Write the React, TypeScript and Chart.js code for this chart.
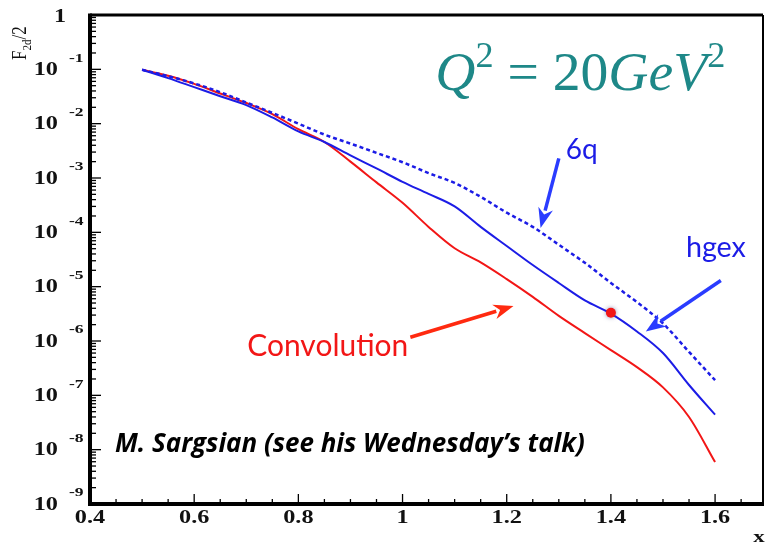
import React, { useEffect, useRef } from "react";
import { Chart, registerables } from "chart.js";
Chart.register(...registerables);

// ---- data ----
const xGrid = [0.5, 0.55, 0.6, 0.65, 0.7, 0.75, 0.8, 0.85, 0.9, 0.95, 1.0, 1.05, 1.1, 1.15, 1.2, 1.25, 1.3, 1.35, 1.4, 1.45, 1.5, 1.55, 1.6];
const sixQ = [9.8e-2, 7.5e-2, 5.5e-2, 3.8e-2, 2.45e-2, 1.58e-2, 1.0e-2, 6.3e-3, 4.3e-3, 2.9e-3, 1.95e-3, 1.23e-3, 8.1e-4, 4.5e-4, 2.3e-4, 1.26e-4, 5.9e-5, 2.75e-5, 1.17e-5, 5.2e-6, 2.1e-6, 6.3e-7, 1.9e-7];
const hgex = [9.8e-2, 6.9e-2, 4.7e-2, 3.2e-2, 2.2e-2, 1.3e-2, 7.2e-3, 4.6e-3, 2.6e-3, 1.5e-3, 8.5e-4, 5.1e-4, 3.0e-4, 1.26e-4, 5.6e-5, 2.5e-5, 1.17e-5, 5.6e-6, 3.2e-6, 1.5e-6, 6.0e-7, 1.55e-7, 4.4e-8];
const convolution = [9.8e-2, 7.6e-2, 5.4e-2, 3.6e-2, 2.4e-2, 1.5e-2, 7.9e-3, 4.6e-3, 2.0e-3, 8.3e-4, 3.5e-4, 1.26e-4, 5.1e-5, 2.8e-5, 1.38e-5, 6.5e-6, 2.9e-6, 1.4e-6, 6.8e-7, 3.3e-7, 1.4e-7, 4.0e-8, 5.9e-9];
const markerX = [1.4];
const markerY = [3.3e-6];
const xTickValues = [0.4, 0.6, 0.8, 1.0, 1.2, 1.4, 1.6];
const yTickExponents = [0, -1, -2, -3, -4, -5, -6, -7, -8, -9];

const BLUE = "#1c1ce6";
const ARROW_BLUE = "#2a3cff";
const RED = "#f21616";
const TEAL = "#1e8888";

function drawArrow(ctx: CanvasRenderingContext2D, x1: number, y1: number, x2: number, y2: number, color: string, w: number, hl: number, hw: number) {
  const a = Math.atan2(y2 - y1, x2 - x1);
  const bx = x2 - hl * Math.cos(a);
  const by = y2 - hl * Math.sin(a);
  ctx.save();
  ctx.strokeStyle = color;
  ctx.fillStyle = color;
  ctx.lineWidth = w;
  ctx.lineCap = "butt";
  ctx.beginPath();
  ctx.moveTo(x1, y1);
  ctx.lineTo(bx + Math.cos(a) * 2, by + Math.sin(a) * 2);
  ctx.stroke();
  ctx.beginPath();
  ctx.moveTo(x2, y2);
  ctx.lineTo(bx + (hw / 2) * Math.sin(a), by - (hw / 2) * Math.cos(a));
  ctx.lineTo(bx + Math.cos(a) * hl * 0.3, by + Math.sin(a) * hl * 0.3);
  ctx.lineTo(bx - (hw / 2) * Math.sin(a), by + (hw / 2) * Math.cos(a));
  ctx.closePath();
  ctx.fill();
  ctx.restore();
}

function fitText(ctx: CanvasRenderingContext2D, text: string, style: string, family: string, width: number, base: number) {
  ctx.font = `${style} ${base}px ${family}`;
  const m = ctx.measureText(text).width;
  const size = (base * width) / m;
  ctx.font = `${style} ${size}px ${family}`;
  return size;
}

const decorPlugin = {
  id: "decor",
  afterDraw(chart: any) {
    const ctx: CanvasRenderingContext2D = chart.ctx;
    const xs = chart.scales.x;
    const ys = chart.scales.y;
    const { left, right, top, bottom } = chart.chartArea;
    const X = (v: number) => xs.getPixelForValue(v);
    const Y = (v: number) => ys.getPixelForValue(v);
    ctx.save();

    // frame
    ctx.strokeStyle = "#000";
    ctx.lineWidth = 3;
    ctx.beginPath();
    ctx.moveTo(left, top);
    ctx.lineTo(right, top);
    ctx.stroke();
    ctx.lineWidth = 2;
    ctx.beginPath();
    ctx.moveTo(right, top);
    ctx.lineTo(right, bottom);
    ctx.stroke();

    // y ticks
    ctx.lineWidth = 1.3;
    for (let e = -9; e <= 0; e++) {
      const yMaj = Y(Math.pow(10, e));
      ctx.beginPath();
      ctx.moveTo(left, yMaj);
      ctx.lineTo(left + 11, yMaj);
      ctx.stroke();
      if (e < 0) {
        for (let m = 2; m <= 9; m++) {
          const yy = Y(m * Math.pow(10, e));
          ctx.beginPath();
          ctx.moveTo(left, yy);
          ctx.lineTo(left + 6, yy);
          ctx.stroke();
        }
      }
    }
    // x ticks
    for (let i = 0; i <= 26; i++) {
      const v = 0.4 + i * 0.05;
      if (v > xs.max) break;
      const px = X(v);
      const major = i % 4 === 0;
      ctx.beginPath();
      ctx.moveTo(px, bottom);
      ctx.lineTo(px, bottom - (major ? 10 : 5));
      ctx.stroke();
    }

    // axis lines (thick)
    ctx.lineWidth = 4;
    ctx.beginPath();
    ctx.moveTo(left, top - 1.5);
    ctx.lineTo(left, bottom);
    ctx.lineTo(right + 1, bottom);
    ctx.stroke();

    // tick labels (horizontally stretched bold serif)
    ctx.fillStyle = "#111";
    const stretch = 1.35;
    const drawStretched = (text: string, x: number, y: number, size: number, align: "left" | "right" | "center") => {
      ctx.save();
      ctx.font = `bold ${size}px "Liberation Serif", "Times New Roman", serif`;
      ctx.textBaseline = "middle";
      ctx.textAlign = align;
      ctx.translate(x, y);
      ctx.scale(stretch, 1);
      ctx.fillText(text, 0, 0);
      ctx.restore();
    };
    xTickValues.forEach((v) => {
      drawStretched(String(v), X(v), bottom + 14, 18, "center");
    });
    yTickExponents.forEach((e) => {
      const yy = Y(Math.pow(10, e));
      if (e === 0) {
        drawStretched("1", left - 30, yy + 2, 18, "center");
      } else {
        drawStretched("10", left - 32, yy + 1, 18, "right");
        drawStretched(String(e), left - 21, yy - 11, 13, "left");
      }
    });

    // axis titles
    ctx.save();
    ctx.translate(26, 60);
    ctx.rotate(-Math.PI / 2);
    ctx.scale(1, 1.2);
    ctx.textBaseline = "alphabetic";
    ctx.textAlign = "left";
    ctx.font = `17px "Liberation Serif", serif`;
    ctx.fillText("F", 0, 0);
    const fw = ctx.measureText("F").width;
    ctx.font = `11px "Liberation Serif", serif`;
    ctx.fillText("2d", fw, 4);
    const sw = ctx.measureText("2d").width;
    ctx.font = `17px "Liberation Serif", serif`;
    ctx.fillText("/2", fw + sw, 0);
    ctx.restore();
    drawStretched("x", right - 4, bottom + 34, 17, "center");

    // red marker
    ctx.save();
    ctx.shadowColor = "rgba(60,60,120,0.55)";
    ctx.shadowBlur = 4;
    ctx.fillStyle = RED;
    ctx.beginPath();
    ctx.arc(X(markerX[0]), Y(markerY[0]), 5, 0, Math.PI * 2);
    ctx.fill();
    ctx.restore();

    // arrows
    drawArrow(ctx, X(1.3), Y(2.3e-3), X(1.265), Y(1.2e-4), ARROW_BLUE, 3.5, 20, 15);
    drawArrow(ctx, X(1.611), Y(1.3e-5), X(1.467), Y(1.5e-6), ARROW_BLUE, 3.5, 20, 15);
    drawArrow(ctx, X(1.015), Y(1.17e-6), X(1.213), Y(4.4e-6), "#ff2a10", 3.5, 20, 15);

    // annotation texts
    ctx.textAlign = "left";
    ctx.textBaseline = "alphabetic";
    ctx.fillStyle = BLUE;
    fitText(ctx, "6q", "", "Lato, sans-serif", 32, 24);
    ctx.fillText("6q", X(1.344) - 16, Y(3.3e-3) + 9);
    fitText(ctx, "hgex", "", "Lato, sans-serif", 60, 24);
    ctx.fillText("hgex", X(1.544), Y(3.5e-5));
    ctx.fillStyle = RED;
    fitText(ctx, "Convolution", "", "Lato, sans-serif", 161, 26);
    ctx.fillText("Convolution", X(0.702), Y(5.2e-7));
    ctx.fillStyle = "#000";
    fitText(ctx, "M. Sargsian (see his Wednesday\u2019s talk)", "italic bold", '"Open Sans", sans-serif', 470, 22);
    ctx.fillText("M. Sargsian (see his Wednesday\u2019s talk)", X(0.448), Y(9.1e-9));

    // Q^2 = 20 GeV^2
    ctx.fillStyle = TEAL;
    const fam = '"Liberation Serif", serif';
    const big = 46;
    const sup = 30;
    const parts: [string, string, number, number][] = [
      ["Q", "italic", big, 0],
      ["2", "", sup, -19],
      [" = 20", "", big, 0],
      ["G", "italic", big, 0],
      ["e", "italic", big, 0],
      ["V", "italic", big, 0],
      ["2", "", sup, -19],
    ];
    let total = 0;
    parts.forEach(([t, s, sz]) => {
      ctx.font = `${s} ${sz}px ${fam}`;
      total += ctx.measureText(t).width;
    });
    const scaleQ = 290 / total;
    let cx = X(1.063);
    const by = Y(4.2e-2);
    parts.forEach(([t, s, sz, dy]) => {
      ctx.font = `${s} ${sz * scaleQ}px ${fam}`;
      ctx.fillText(t, cx, by + dy * scaleQ);
      cx += ctx.measureText(t).width;
    });

    ctx.restore();
  },
};

export default function App() {
  const ref = useRef<HTMLCanvasElement | null>(null);
  useEffect(() => {
    document.body.style.margin = "0";
    const canvas = ref.current;
    if (!canvas) return;
    const mk = (arr: number[]) => xGrid.map((x, i) => ({ x, y: arr[i] }));
    const chart = new Chart(canvas, {
      type: "line",
      data: {
        datasets: [
          { label: "6q", data: mk(sixQ), borderColor: BLUE, borderWidth: 2.5, borderDash: [4, 3], pointRadius: 0, cubicInterpolationMode: "monotone", fill: false },
          { label: "hgex", data: mk(hgex), borderColor: BLUE, borderWidth: 2, pointRadius: 0, cubicInterpolationMode: "monotone", fill: false },
          { label: "Convolution", data: mk(convolution), borderColor: RED, borderWidth: 2, pointRadius: 0, cubicInterpolationMode: "monotone", fill: false },
        ],
      },
      options: {
        responsive: false,
        animation: false,
        events: [],
        layout: { padding: { left: 0, top: 15, right: 2, bottom: 0 } },
        plugins: { legend: { display: false }, tooltip: { enabled: false } },
        scales: {
          x: {
            type: "linear",
            min: 0.4,
            max: 1.692,
            grid: { display: false },
            border: { display: false },
            ticks: { display: false },
            afterFit: (s: any) => { s.height = 40; },
          },
          y: {
            type: "logarithmic",
            min: 1e-9,
            max: 1,
            grid: { display: false },
            border: { display: false },
            ticks: { display: false },
            afterFit: (s: any) => { s.width = 90; },
          },
        },
      },
      plugins: [decorPlugin],
    } as any);
    return () => chart.destroy();
  }, []);
  return (
    <div style={{ width: 765, height: 544, background: "#fff" }}>
      <canvas ref={ref} width={765} height={544} />
    </div>
  );
}
